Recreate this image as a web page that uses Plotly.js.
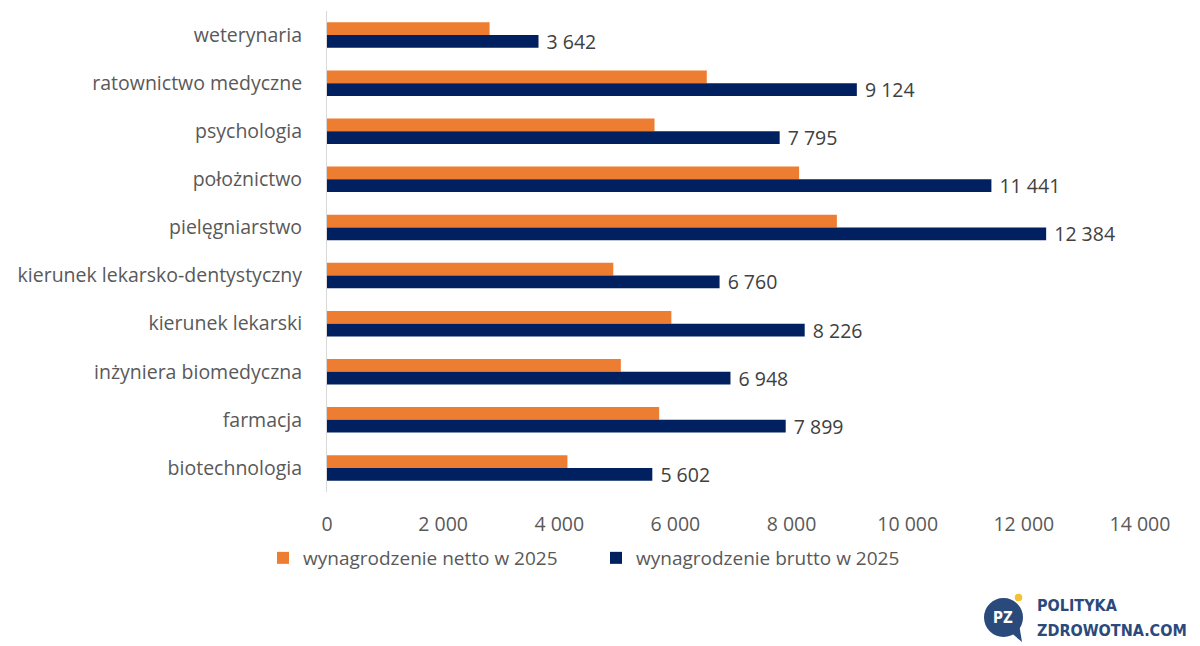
<!DOCTYPE html>
<html>
<head>
<meta charset="utf-8">
<script src="https://cdn.plot.ly/plotly-3.0.1.min.js"></script>
<style>
  html, body { margin: 0; padding: 0; background: #ffffff; }
  #chart { width: 1200px; height: 646px; }
</style>
</head>
<body>
<div id="chart"></div>
<script>
// Kierunki studiów (od góry wykresu)
const kierunki = [
  'weterynaria',
  'ratownictwo medyczne',
  'psychologia',
  'położnictwo',
  'pielęgniarstwo',
  'kierunek lekarsko-dentystyczny',
  'kierunek lekarski',
  'inżyniera biomedyczna',
  'farmacja',
  'biotechnologia'
];

// Wynagrodzenie netto w 2025 (zł)
const netto = [2800, 6540, 5640, 8130, 8780, 4930, 5930, 5060, 5720, 4140];

// Wynagrodzenie brutto w 2025 (zł)
const brutto = [3642, 9124, 7795, 11441, 12384, 6760, 8226, 6948, 7899, 5602];

const nazwaNetto = 'wynagrodzenie netto w 2025';
const nazwaBrutto = 'wynagrodzenie brutto w 2025';

const xTicks = [0, 2000, 4000, 6000, 8000, 10000, 12000, 14000];

const FONT = 'Open Sans, Noto Sans, sans-serif';
const GRAY = '#595959';
const ORANGE = '#ED7D31';
const NAVY = '#002060';
const LOGO = '#2B4A7C';
const LOGO_FONT = 'DejaVu Sans Condensed, DejaVu Sans, sans-serif';

const traces = [
  {
    type: 'bar',
    orientation: 'h',
    name: nazwaNetto,
    y: kierunki,
    x: netto,
    marker: { color: ORANGE },
    hoverinfo: 'x+y'
  },
  {
    type: 'bar',
    orientation: 'h',
    name: nazwaBrutto,
    y: kierunki,
    x: brutto,
    marker: { color: NAVY },
    // odstęp (twarda spacja) między końcem słupka a etykietą
    texttemplate: '\u00a0%{x:,d}',
    textposition: 'outside',
    constraintext: 'none',
    cliponaxis: false,
    textfont: { family: FONT, size: 19.5, color: '#404040' },
    hoverinfo: 'x+y'
  }
];

// pomocnicze przeliczenie pikseli na współrzędne "paper"
const PX = x => (x - 327) / 813;
const PY = y => (492 - y) / 481;

const layout = {
  width: 1200,
  height: 646,
  paper_bgcolor: '#ffffff',
  plot_bgcolor: '#ffffff',
  separators: ', ',
  font: { family: FONT, size: 19, color: GRAY },
  margin: { l: 327, r: 60, t: 11, b: 154 },
  barmode: 'group',
  bargap: 0.47,
  bargroupgap: 0,
  showlegend: true,
  legend: {
    orientation: 'h',
    x: PX(263), xanchor: 'left',
    y: PY(539), yanchor: 'top',
    font: { family: FONT, size: 19, color: GRAY },
    itemwidth: 30,
    entrywidth: 288,
    entrywidthmode: 'pixels',
    tracegroupgap: 0
  },
  xaxis: {
    range: [0, 14000],
    tickvals: xTicks,
    tickformat: ',d',
    showgrid: false,
    zeroline: false,
    showline: false,
    ticks: '',
    ticklabelstandoff: 18,
    tickfont: { family: FONT, size: 19.5, color: GRAY },
    fixedrange: true
  },
  yaxis: {
    type: 'category',
    autorange: 'reversed',
    showgrid: false,
    zeroline: false,
    showline: true,
    linecolor: '#d9d9d9',
    linewidth: 1,
    ticks: '',
    ticklabelstandoff: 20,
    tickfont: { family: FONT, size: 19.5, color: GRAY },
    fixedrange: true
  },
  shapes: [
    // Logo: dymek z literami PZ
    { type: 'circle', xref: 'paper', yref: 'paper', layer: 'above',
      x0: PX(984), x1: PX(1023), y0: PY(637), y1: PY(598),
      fillcolor: LOGO, line: { width: 0 } },
    { type: 'path', xref: 'paper', yref: 'paper', layer: 'above',
      path: 'M ' + PX(1009) + ' ' + PY(631) + ' L ' + PX(1022) + ' ' + PY(642) +
            ' L ' + PX(1019) + ' ' + PY(624) + ' Z',
      fillcolor: LOGO, line: { width: 0 } },
    { type: 'circle', xref: 'paper', yref: 'paper', layer: 'above',
      x0: PX(1014), x1: PX(1023), y0: PY(602), y1: PY(593),
      fillcolor: '#F2C230', line: { color: '#ffffff', width: 1.5 } }
  ],
  annotations: [
    { xref: 'paper', yref: 'paper', x: PX(1003), y: PY(618),
      text: '<b>PZ</b>', showarrow: false, xanchor: 'center', yanchor: 'middle',
      font: { family: LOGO_FONT, size: 15, color: '#ffffff' } },
    { xref: 'paper', yref: 'paper', x: PX(1035), y: PY(605),
      text: '<b>POLITYKA</b>', showarrow: false, xanchor: 'left', yanchor: 'middle',
      font: { family: LOGO_FONT, size: 16, color: LOGO } },
    { xref: 'paper', yref: 'paper', x: PX(1035), y: PY(630),
      text: '<b>ZDROWOTNA.COM</b>', showarrow: false, xanchor: 'left', yanchor: 'middle',
      font: { family: LOGO_FONT, size: 16, color: LOGO } }
  ]
};

Plotly.newPlot('chart', traces, layout, { displayModeBar: false, staticPlot: true });
</script>
</body>
</html>
